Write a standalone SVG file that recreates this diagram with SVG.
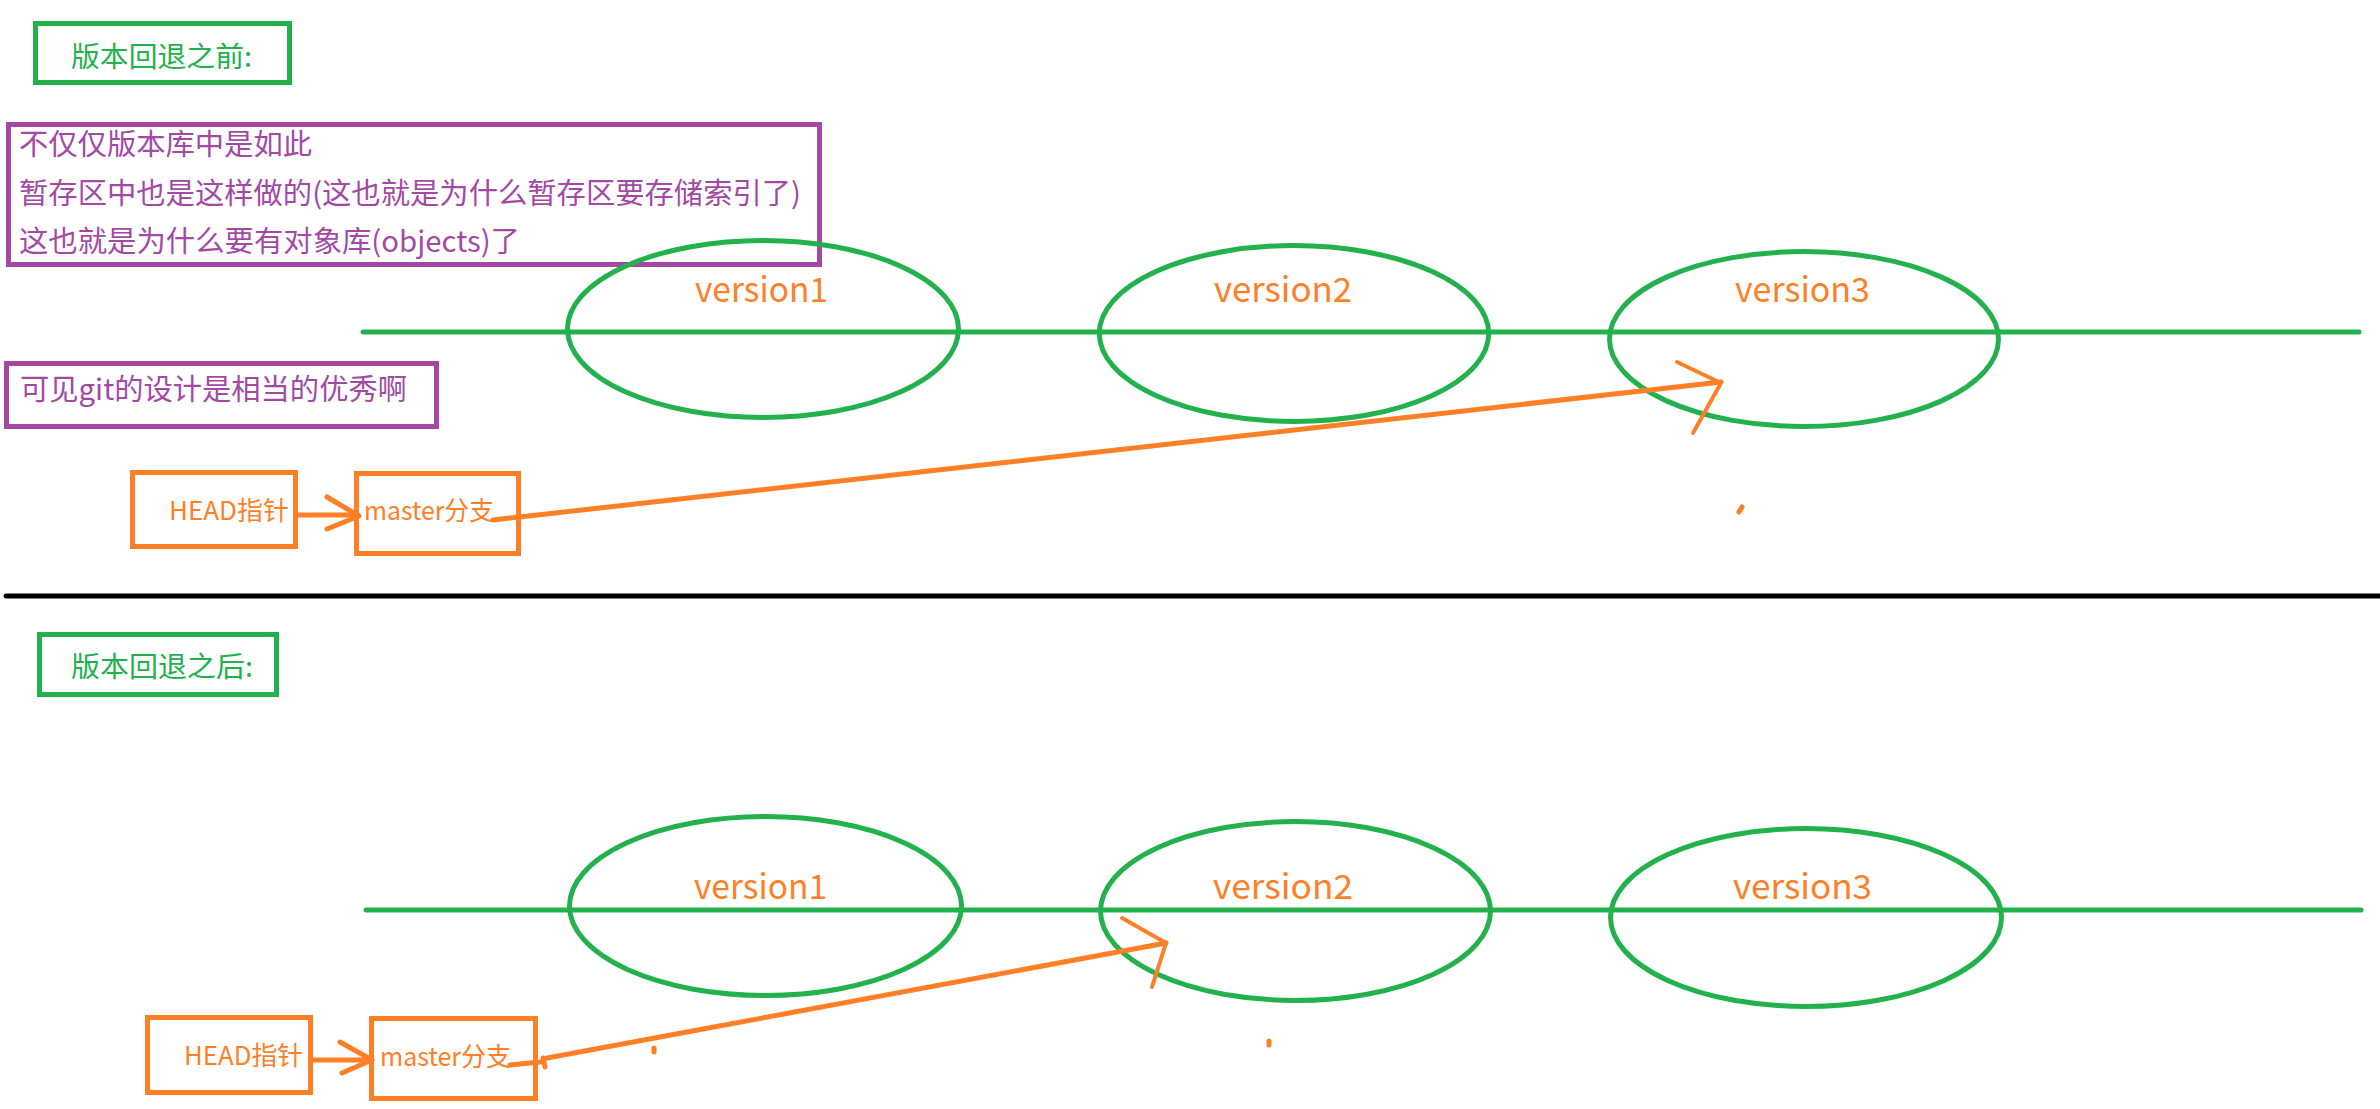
<svg xmlns="http://www.w3.org/2000/svg" width="2380" height="1109" viewBox="0 0 2380 1109">
<style>
  .bg{fill:#ffffff}
  .gbox{fill:none;stroke:#22b14c;stroke-width:5}
  .pbox{fill:none;stroke:#a349a4;stroke-width:5}
  .obox{fill:none;stroke:#ff7f27;stroke-width:5}
  .ell{fill:none;stroke:#22b14c;stroke-width:5}
  .gline{stroke:#22b14c;stroke-width:5;stroke-linecap:round}
  .sep{stroke:#000000;stroke-width:5;stroke-linecap:round}
  .conn{fill:none;stroke:#ff7f27;stroke-width:5;stroke-linecap:round;stroke-linejoin:round}
  .head{fill:none;stroke:#ff7f27;stroke-width:4;stroke-linecap:round;stroke-linejoin:round}
  .t{font-family:"Microsoft YaHei","Noto Sans CJK SC","Noto Sans",sans-serif}
  .tg{fill:#22b14c;font-size:28px}
  .tp{fill:#a349a4;font-size:29px}
  .to{fill:#ff7f27;font-size:26px}
  .tv{fill:#ff7f27;font-size:34px}
</style>
<rect class="bg" x="0" y="0" width="2380" height="1109"/>

<g id="title-before">
  <rect class="gbox" x="35.5" y="23.5" width="254" height="59"/>
  <text class="t tg" x="71" y="67" textLength="181" lengthAdjust="spacingAndGlyphs">版本回退之前:</text>
</g>
<g id="note-1">
  <rect class="pbox" x="8.5" y="124.5" width="811" height="140"/>
  <text class="t tp" x="19" y="155" textLength="293" lengthAdjust="spacingAndGlyphs">不仅仅版本库中是如此</text>
  <text class="t tp" x="19" y="204" textLength="782" lengthAdjust="spacingAndGlyphs">暂存区中也是这样做的(这也就是为什么暂存区要存储索引了)</text>
  <text class="t tp" x="19" y="252" textLength="501" lengthAdjust="spacingAndGlyphs">这也就是为什么要有对象库(objects)了</text>
</g>
<g id="note-2">
  <rect class="pbox" x="6.5" y="363.5" width="430" height="63"/>
  <text class="t tp" x="20" y="400" textLength="387" lengthAdjust="spacingAndGlyphs">可见git的设计是相当的优秀啊</text>
</g>

<line class="gline" x1="363" y1="332" x2="2359" y2="332"/>
<g id="v1-before">
  <ellipse class="ell" cx="763" cy="329" rx="195.5" ry="88.5"/>
  <text class="t tv" x="695" y="302" textLength="133" lengthAdjust="spacingAndGlyphs">version1</text>
</g>
<g id="v2-before">
  <ellipse class="ell" cx="1294" cy="333.5" rx="194.7" ry="88"/>
  <text class="t tv" x="1214" y="302" textLength="138" lengthAdjust="spacingAndGlyphs">version2</text>
</g>
<g id="v3-before">
  <ellipse class="ell" cx="1804" cy="339" rx="194.5" ry="87.5"/>
  <text class="t tv" x="1735" y="302" textLength="135" lengthAdjust="spacingAndGlyphs">version3</text>
</g>
<g id="head-before">
  <rect class="obox" x="132.5" y="472.5" width="163" height="74"/>
  <text class="t to" x="169" y="520" textLength="120" lengthAdjust="spacingAndGlyphs">HEAD指针</text>
</g>
<g id="master-before">
  <rect class="obox" x="356.5" y="473.5" width="162" height="80"/>
  <text class="t to" x="364" y="520" textLength="130" lengthAdjust="spacingAndGlyphs">master分支</text>
</g>

<line class="sep" x1="6" y1="596" x2="2380" y2="596"/>

<g id="title-after">
  <rect class="gbox" x="39.5" y="634.5" width="237" height="60"/>
  <text class="t tg" x="71" y="677" textLength="182" lengthAdjust="spacingAndGlyphs">版本回退之后:</text>
</g>

<line class="gline" x1="366" y1="910" x2="2361" y2="910"/>
<g id="v1-after">
  <ellipse class="ell" cx="765.5" cy="906" rx="196" ry="89.5"/>
  <text class="t tv" x="694" y="899" textLength="133" lengthAdjust="spacingAndGlyphs">version1</text>
</g>
<g id="v2-after">
  <ellipse class="ell" cx="1295.5" cy="911" rx="195" ry="89.5"/>
  <text class="t tv" x="1213" y="899" textLength="140" lengthAdjust="spacingAndGlyphs">version2</text>
</g>
<g id="v3-after">
  <ellipse class="ell" cx="1806" cy="917.5" rx="195.5" ry="89"/>
  <text class="t tv" x="1733" y="899" textLength="139" lengthAdjust="spacingAndGlyphs">version3</text>
</g>
<g id="head-after">
  <rect class="obox" x="147.5" y="1017.5" width="163" height="75"/>
  <text class="t to" x="184" y="1065" textLength="119" lengthAdjust="spacingAndGlyphs">HEAD指针</text>
</g>
<g id="master-after">
  <rect class="obox" x="371.5" y="1018.5" width="164" height="80"/>
  <text class="t to" x="380" y="1066" textLength="131" lengthAdjust="spacingAndGlyphs">master分支</text>
</g>

<g id="connectors">
  <line class="conn" x1="298" y1="515" x2="358" y2="515"/>
  <polyline class="conn" points="327,497 359,516 327,529"/>
  <line class="conn" x1="493" y1="520" x2="1721" y2="382"/>
  <polyline class="head" points="1677,362 1721,383 1693,433"/>
  <line class="conn" x1="1739" y1="512" x2="1742" y2="507"/>

  <line class="conn" x1="313" y1="1060" x2="372" y2="1060"/>
  <polyline class="conn" points="340,1042 372,1060 342,1073"/>
  <path class="conn" d="M510,1065 L540,1062 M543,1058 L545,1067 M547,1058 L1166,943"/>
  <polyline class="head" points="1122,918 1166,943 1152,987"/>
  <line class="conn" x1="654" y1="1048" x2="654" y2="1052"/>
  <line class="conn" x1="1269" y1="1041" x2="1269" y2="1045"/>
</g>
</svg>
